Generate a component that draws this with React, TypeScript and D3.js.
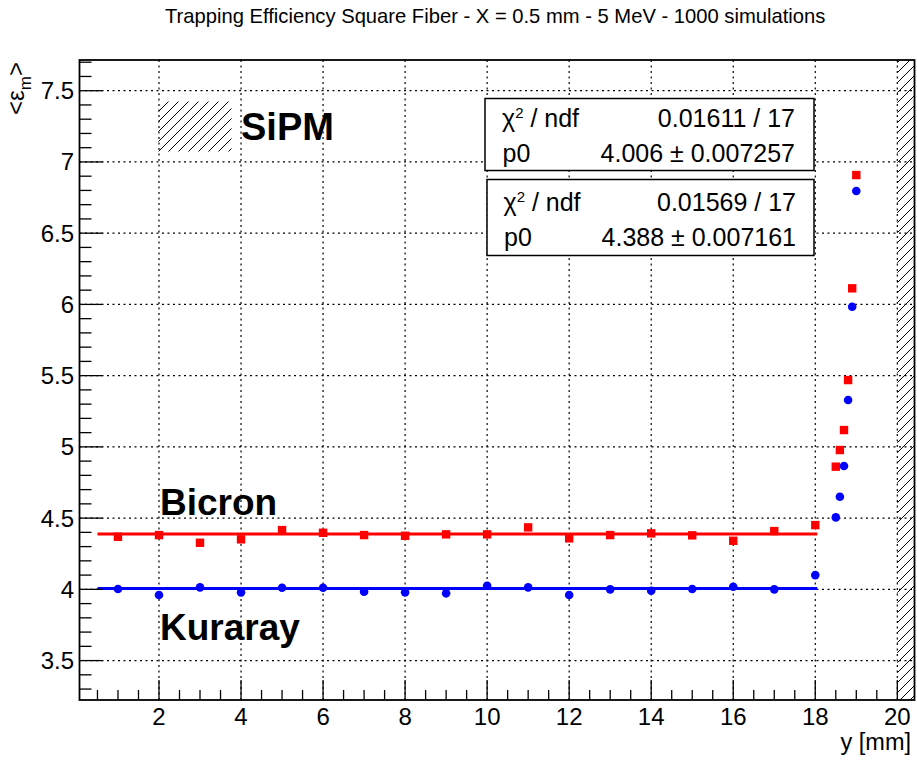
import React from 'react';
import * as d3 from 'd3';

const W = 917;
const H = 760;

const flatX = [1, 2, 3, 4, 5, 6, 7, 8, 9, 10, 11, 12, 13, 14, 15, 16, 17, 18];
const bicronFlat = [4.369, 4.381, 4.327, 4.351, 4.416, 4.397, 4.381, 4.376, 4.386, 4.386, 4.435, 4.358, 4.381, 4.393, 4.379, 4.341, 4.409, 4.451];
const kurarayFlat = [4.002, 3.96, 4.014, 3.979, 4.011, 4.011, 3.983, 3.979, 3.972, 4.025, 4.014, 3.96, 4.0, 3.99, 4.002, 4.018, 4.0, 4.1];
const edgeX = [18.5, 18.6, 18.7, 18.8, 18.9, 19.0];
const bicronEdge = [4.861, 4.978, 5.118, 5.469, 6.113, 6.908];
const kurarayEdge = [4.505, 4.65, 4.866, 5.329, 5.984, 6.796];

const fitRange = [0.5, 18.05];
const bicronFit = 4.388;
const kurarayFit = 4.006;

const xMajor = [2, 4, 6, 8, 10, 12, 14, 16, 18, 20];
const yMajor = [3.5, 4, 4.5, 5, 5.5, 6, 6.5, 7, 7.5];

const statsKuraray = { chi: '0.01611 / 17', p0: '4.006 \u00b1 0.007257' };
const statsBicron = { chi: '0.01569 / 17', p0: '4.388 \u00b1 0.007161' };

const title = 'Trapping Efficiency Square Fiber - X = 0.5 mm - 5 MeV - 1000 simulations';

const FONT = '"Liberation Sans", Arial, Helvetica, sans-serif';

export default function App() {
  const left = 79.5, right = 914.5, top = 60, bottom = 700;
  const x = d3.scaleLinear().domain([0.062, 20.419]).range([left, right]);
  const y = d3.scaleLinear().domain([3.2233, 7.7155]).range([bottom, top]);

  const xMinor = d3.range(0.5, 20.01, 0.5);
  const yMinor = d3.range(3.3, 7.71, 0.1);

  const bicron = flatX.map((v, i) => [v, bicronFlat[i]]).concat(edgeX.map((v, i) => [v, bicronEdge[i]]));
  const kuraray = flatX.map((v, i) => [v, kurarayFlat[i]]).concat(edgeX.map((v, i) => [v, kurarayEdge[i]]));

  const statsBox = (bx: number, by: number, bw: number, bh: number, tx: number, b1: number, b2: number, rx: number, s: { chi: string; p0: string }) => (
    <g>
      <rect x={bx} y={by} width={bw} height={bh} fill="white" stroke="black" strokeWidth={1.5} />
      <text x={tx} y={b1} fontSize={25} fontFamily={FONT}>
        {'\u03c7'}
        <tspan fontSize={15} dy={-9}>2</tspan>
        <tspan dy={9}>{' / ndf'}</tspan>
      </text>
      <text x={rx} y={b1} fontSize={25} fontFamily={FONT} textAnchor="end">{s.chi}</text>
      <text x={tx + 0.5} y={b2} fontSize={25} fontFamily={FONT}>p0</text>
      <text x={rx} y={b2} fontSize={25} fontFamily={FONT} textAnchor="end">{s.p0}</text>
    </g>
  );

  return (
    <svg width={W} height={H} style={{ position: 'absolute', left: 0, top: 0, background: 'white' }}>
      <defs>
        <pattern id="hatch" patternUnits="userSpaceOnUse" width={10} height={10}>
          <path d="M0,10 L10,0 M-2.5,2.5 L2.5,-2.5 M7.5,12.5 L12.5,7.5" stroke="black" strokeWidth={1} />
        </pattern>
      </defs>
      <rect x={0} y={0} width={W} height={H} fill="white" />
      <text x={165} y={23} fontSize={20.2} fontFamily={FONT}>{title}</text>

      {/* hatched SiPM region */}
      <rect x={x(20)} y={top} width={right - x(20)} height={bottom - top} fill="url(#hatch)" />

      {/* grid */}
      <g stroke="black" strokeWidth={1.2} strokeDasharray="2 3.5">
        {xMajor.map(v => (
          <line key={'gx' + v} x1={x(v)} x2={x(v)} y1={top} y2={bottom} />
        ))}
        {yMajor.map(v => (
          <line key={'gy' + v} x1={left} x2={right} y1={y(v)} y2={y(v)} />
        ))}
      </g>

      {/* SiPM legend */}
      <rect x={158.5} y={101.5} width={73} height={50} fill="url(#hatch)" />
      <text x={241} y={140} fontSize={38} fontWeight="bold" fontFamily={FONT}>SiPM</text>
      <text x={160} y={515} fontSize={37} fontWeight="bold" fontFamily={FONT}>Bicron</text>
      <text x={160} y={640} fontSize={37} fontWeight="bold" fontFamily={FONT}>Kuraray</text>

      {/* fit lines */}
      <line x1={x(fitRange[0])} x2={x(fitRange[1])} y1={y(bicronFit)} y2={y(bicronFit)} stroke="#ff0000" strokeWidth={3} />
      <line x1={x(fitRange[0])} x2={x(fitRange[1])} y1={y(kurarayFit)} y2={y(kurarayFit)} stroke="#0000ff" strokeWidth={3} />

      {/* markers */}
      {bicron.map((d, i) => (
        <rect key={'b' + i} x={x(d[0]) - 4.2} y={y(d[1]) - 4.2} width={8.4} height={8.4} fill="#ff0000" />
      ))}
      {kuraray.map((d, i) => (
        <circle key={'k' + i} cx={x(d[0])} cy={y(d[1])} r={4.3} fill="#0000ff" />
      ))}

      {/* stats boxes */}
      {statsBox(485, 98.5, 329, 72, 502, 127, 162, 795, statsKuraray)}
      {statsBox(487, 179.5, 327, 76, 503.5, 211, 246, 796, statsBicron)}

      {/* axes ticks */}
      <g stroke="black" strokeWidth={1.3}>
        {xMinor.map(v => (
          <line key={'xm' + v} x1={x(v)} x2={x(v)} y1={bottom} y2={bottom - (xMajor.includes(Math.round(v * 10) / 10) ? 20 : 10)} />
        ))}
        {yMinor.map(v => {
          const r = Math.round(v * 10) / 10;
          const isMaj = yMajor.includes(r);
          return <line key={'ym' + v} x1={left} x2={left + (isMaj ? 23 : 12)} y1={y(r)} y2={y(r)} />;
        })}
      </g>

      {/* frame */}
      <rect x={left} y={top} width={right - left} height={bottom - top} fill="none" stroke="black" strokeWidth={1.8} />

      {/* tick labels */}
      {xMajor.map(v => (
        <text key={'xl' + v} x={x(v)} y={725} fontSize={24} fontFamily={FONT} textAnchor="middle">{v}</text>
      ))}
      {yMajor.map(v => (
        <text key={'yl' + v} x={74} y={y(v) + 8.5} fontSize={24} fontFamily={FONT} textAnchor="end">{v}</text>
      ))}

      {/* axis titles */}
      <text x={911} y={750} fontSize={23.5} fontFamily={FONT} textAnchor="end">y [mm]</text>
      <text transform="translate(24,62) rotate(-90)" fontSize={24} fontFamily={FONT} textAnchor="end">
        {'<\u03b5'}
        <tspan fontSize={17} dy={7}>m</tspan>
        <tspan dy={-7}>{'>'}</tspan>
      </text>
    </svg>
  );
}
